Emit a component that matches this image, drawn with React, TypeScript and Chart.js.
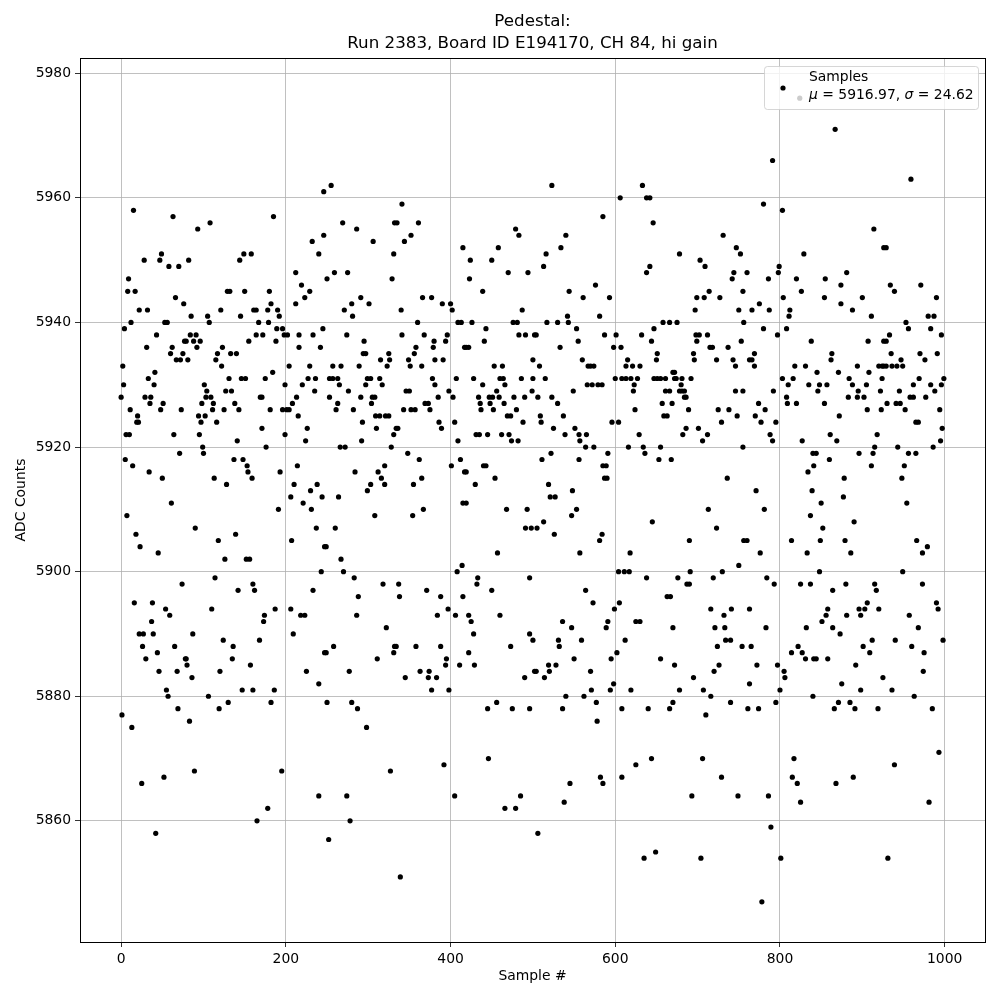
import React, { useEffect, useRef } from "react";
import { Chart, registerables } from "chart.js";

Chart.register(...registerables);

const titleLines = ["Pedestal:", "Run 2383, Board ID E194170, CH 84, hi gain"];
const xLabel = "Sample #";
const yLabel = "ADC Counts";
const legendTitle = "Samples";
const legendMu = "5916.97";
const legendSigma = "24.62";
const xTicks = [0, 200, 400, 600, 800, 1000];
const yTicks = [5860, 5880, 5900, 5920, 5940, 5960, 5980];

// [sample #, ADC counts]
const block1: [number, number][] = [
  [15,5958],[63,5957],[28,5950],[47,5950],[49,5951],[58,5949],[70,5949],[9,5947],[8,5945],[17,5945],[66,5944],[76,5943],[22,5942],[32,5942],[12,5940],[53,5940],[56,5940],[4,5939],[43,5938],[77,5937],[31,5936],[62,5936],[60,5935],[75,5935],[67,5934],[72,5934],[2,5933],[41,5932],[33,5931],[40,5930],[3,5930],[0,5928],[29,5928],[36,5928],[35,5927],[51,5927],[11,5926],[48,5926],[73,5926],[20,5925],[19,5924],[21,5924],[6,5922],[10,5922],[64,5922],[71,5919],[5,5918],[14,5917],[34,5916],[50,5915],[61,5911],[7,5909],[18,5906],[23,5904],[45,5903],[74,5898],[16,5895],[38,5895],[54,5894],[59,5893],[37,5892],[22,5890],[27,5890],[39,5890],[26,5888],[65,5888],[44,5887],[30,5886],[78,5886],[46,5884],[68,5884],[55,5881],[57,5880],[69,5878],[1,5877],[13,5875],[25,5866],[52,5867],[42,5858],
];
const block2: [number, number][] = [
  [93,5955],[108,5956],[82,5950],[144,5950],[149,5951],[158,5951],[129,5945],[132,5945],[150,5945],[121,5942],[161,5942],[85,5941],[105,5941],[145,5941],[107,5940],[84,5938],[91,5938],[79,5937],[88,5937],[96,5937],[155,5937],[92,5936],[123,5936],[117,5935],[133,5935],[140,5935],[81,5934],[115,5934],[122,5933],[131,5931],[146,5931],[151,5931],[101,5930],[127,5929],[134,5929],[104,5929],[103,5928],[109,5928],[98,5927],[112,5927],[138,5927],[111,5926],[125,5926],[143,5926],[94,5925],[102,5925],[97,5924],[116,5924],[95,5922],[141,5921],[99,5920],[100,5919],[137,5918],[148,5918],[153,5917],[154,5916],[113,5915],[159,5915],[128,5914],[90,5907],[139,5906],[118,5905],[126,5902],[152,5902],[156,5902],[114,5899],[160,5898],[142,5897],[162,5897],[110,5894],[87,5890],[124,5889],[136,5888],[135,5886],[79,5886],[80,5885],[157,5885],[120,5884],[86,5883],[147,5881],[160,5881],[106,5880],[130,5879],[119,5878],[83,5876],[89,5868],
];
const block3: [number, number][] = [
  [246,5961],[185,5957],[232,5953],[246,5954],[240,5951],[212,5948],[219,5946],[229,5945],[180,5945],[223,5944],[212,5943],[182,5943],[164,5942],[178,5942],[190,5942],[192,5941],[167,5940],[179,5940],[189,5939],[196,5939],[245,5939],[164,5938],[172,5938],[198,5938],[202,5938],[216,5938],[233,5938],[188,5937],[216,5936],[242,5936],[204,5933],[229,5933],[184,5932],[175,5931],[227,5931],[236,5931],[199,5930],[220,5930],[235,5929],[213,5928],[169,5928],[171,5928],[208,5927],[181,5926],[196,5926],[201,5926],[204,5926],[215,5925],[171,5923],[226,5923],[199,5922],[224,5921],[176,5920],[214,5917],[193,5916],[210,5914],[238,5914],[230,5913],[206,5912],[221,5911],[244,5912],[231,5910],[191,5910],[237,5907],[207,5905],[247,5904],[243,5900],[233,5897],[187,5894],[206,5894],[218,5893],[223,5893],[174,5893],[173,5892],[209,5890],[168,5889],[247,5887],[225,5884],[186,5881],[240,5882],[182,5879],[195,5868],[240,5864],[178,5862],[165,5860],
];
const block4: [number, number][] = [
  [255,5962],[269,5956],[286,5955],[306,5953],[331,5951],[332,5956],[259,5948],[275,5948],[250,5947],[329,5947],[291,5944],[280,5943],[301,5943],[271,5942],[281,5941],[274,5938],[295,5937],[294,5935],[297,5935],[325,5935],[257,5933],[267,5933],[289,5933],[315,5934],[326,5934],[323,5933],[253,5931],[257,5931],[263,5931],[299,5931],[303,5931],[314,5931],[265,5930],[297,5930],[317,5930],[276,5929],[253,5928],[291,5928],[305,5928],[308,5928],[263,5927],[304,5927],[261,5926],[282,5926],[309,5925],[314,5925],[321,5925],[325,5925],[293,5924],[310,5923],[331,5922],[292,5921],[266,5920],[272,5920],[328,5920],[320,5917],[284,5916],[312,5916],[316,5915],[320,5914],[303,5914],[299,5913],[264,5912],[308,5909],[260,5907],[249,5904],[267,5902],[270,5900],[283,5899],[318,5898],[288,5896],[286,5893],[322,5891],[258,5888],[249,5887],[332,5888],[331,5887],[311,5886],[277,5884],[250,5879],[280,5879],[287,5878],[298,5875],[327,5868],[274,5864],[278,5860],[252,5857],
];
const block5: [number, number][] = [
  [341,5959],[335,5956],[361,5956],[344,5953],[352,5954],[415,5952],[366,5944],[377,5944],[390,5943],[400,5943],[340,5942],[402,5942],[360,5940],[409,5940],[413,5940],[341,5938],[368,5938],[396,5938],[380,5937],[394,5937],[379,5936],[358,5936],[417,5936],[356,5935],[349,5934],[381,5934],[391,5934],[351,5933],[365,5933],[407,5931],[378,5931],[381,5930],[346,5929],[350,5929],[398,5929],[369,5927],[373,5927],[403,5928],[385,5928],[343,5926],[352,5926],[357,5926],[375,5926],[386,5924],[405,5924],[336,5923],[334,5923],[389,5923],[409,5921],[348,5919],[362,5918],[412,5918],[401,5917],[417,5916],[365,5915],[355,5914],[415,5911],[367,5910],[354,5909],[414,5901],[408,5900],[337,5898],[371,5897],[338,5896],[388,5896],[415,5896],[397,5894],[384,5893],[406,5893],[334,5888],[358,5888],[388,5888],[395,5886],[394,5885],[411,5885],[363,5884],[374,5884],[345,5883],[373,5883],[383,5883],[377,5881],[398,5881],[392,5869],[405,5864],[339,5851],
];
const block6: [number, number][] = [
  [479,5955],[483,5954],[458,5952],[424,5950],[450,5950],[423,5947],[470,5948],[494,5948],[439,5945],[487,5942],[426,5940],[476,5940],[481,5940],[443,5939],[441,5937],[483,5938],[491,5938],[502,5938],[419,5936],[422,5936],[453,5933],[463,5933],[500,5934],[428,5931],[460,5931],[464,5931],[486,5931],[500,5931],[439,5930],[466,5930],[456,5929],[499,5929],[434,5928],[447,5928],[451,5928],[459,5928],[477,5928],[490,5928],[436,5927],[448,5927],[465,5927],[437,5926],[452,5926],[480,5926],[469,5925],[473,5925],[488,5924],[431,5922],[435,5922],[445,5922],[462,5922],[471,5922],[474,5921],[482,5921],[440,5917],[443,5917],[419,5916],[454,5915],[430,5914],[419,5911],[468,5910],[493,5910],[491,5907],[498,5907],[457,5903],[433,5899],[432,5898],[496,5899],[450,5897],[422,5893],[425,5892],[460,5893],[428,5890],[496,5890],[500,5889],[473,5888],[422,5887],[429,5885],[502,5884],[490,5883],[456,5879],[445,5878],[475,5878],[496,5878],[446,5870],[485,5864],[466,5862],[479,5862],
];
const block7: [number, number][] = [
  [523,5962],[585,5957],[540,5954],[516,5951],[534,5952],[513,5949],[576,5946],[544,5945],[561,5944],[581,5941],[542,5941],[517,5940],[530,5940],[543,5940],[553,5939],[504,5938],[587,5938],[555,5937],[533,5936],[560,5934],[508,5933],[567,5933],[570,5933],[574,5933],[515,5931],[566,5930],[572,5930],[579,5930],[584,5930],[549,5929],[506,5928],[523,5928],[530,5927],[509,5925],[537,5925],[510,5924],[525,5923],[551,5923],[539,5922],[556,5922],[565,5922],[557,5921],[564,5920],[574,5920],[511,5918],[522,5919],[556,5918],[585,5917],[587,5915],[519,5914],[521,5912],[527,5912],[548,5913],[553,5910],[547,5909],[505,5907],[513,5908],[526,5906],[584,5906],[581,5905],[557,5903],[564,5897],[573,5895],[536,5892],[547,5891],[531,5889],[532,5888],[559,5889],[550,5886],[504,5884],[514,5883],[519,5885],[520,5884],[528,5885],[570,5884],[540,5880],[562,5880],[571,5881],[577,5879],[536,5878],[578,5876],[545,5866],[538,5863],[582,5867],[585,5866],[506,5858],
];
const block8: [number, number][] = [
  [633,5962],[606,5960],[638,5960],[642,5960],[646,5956],[642,5949],[638,5948],[593,5944],[658,5940],[666,5940],[601,5938],[632,5938],[647,5939],[644,5937],[598,5936],[607,5936],[651,5935],[650,5934],[615,5934],[613,5933],[621,5933],[630,5933],[670,5932],[600,5931],[608,5931],[613,5931],[619,5931],[627,5931],[647,5931],[651,5931],[655,5931],[661,5931],[672,5931],[623,5930],[622,5929],[661,5929],[666,5929],[657,5927],[669,5927],[624,5926],[659,5925],[663,5925],[596,5924],[604,5924],[629,5922],[591,5919],[616,5920],[634,5920],[636,5919],[655,5920],[653,5918],[668,5918],[589,5917],[590,5915],[645,5908],[618,5903],[604,5900],[611,5900],[617,5900],[638,5899],[663,5896],[667,5896],[605,5895],[599,5894],[591,5892],[589,5891],[625,5892],[630,5892],[670,5891],[612,5889],[602,5887],[595,5886],[655,5886],[672,5885],[598,5882],[594,5881],[619,5881],[670,5879],[608,5878],[640,5878],[666,5878],[625,5869],[644,5870],[608,5867],[635,5854],[649,5855],
];
const block9: [number, number][] = [
  [731,5954],[747,5952],[752,5951],[678,5951],[703,5950],[709,5949],[744,5948],[742,5947],[755,5945],[714,5945],[699,5944],[708,5944],[727,5944],[750,5942],[697,5942],[675,5940],[756,5940],[698,5938],[702,5938],[712,5938],[699,5937],[753,5937],[715,5936],[718,5936],[737,5936],[695,5935],[696,5934],[723,5934],[743,5934],[746,5933],[672,5932],[674,5931],[681,5931],[692,5931],[680,5930],[678,5929],[681,5929],[684,5929],[746,5929],[755,5929],[684,5928],[686,5928],[689,5926],[725,5926],[738,5926],[748,5925],[729,5924],[686,5923],[701,5923],[682,5922],[712,5922],[706,5921],[755,5920],[736,5915],[713,5910],[723,5907],[690,5905],[756,5905],[750,5901],[691,5900],[730,5900],[676,5899],[719,5899],[687,5898],[690,5898],[716,5894],[741,5894],[732,5893],[721,5891],[733,5891],[734,5889],[740,5889],[724,5888],[754,5888],[726,5885],[720,5884],[695,5883],[678,5881],[707,5881],[716,5880],[740,5879],[710,5877],[706,5870],[729,5867],[693,5864],[749,5864],[704,5854],
];
const block10: [number, number][] = [
  [824,5976],[791,5966],[780,5959],[803,5958],[829,5951],[760,5948],[786,5947],[798,5948],[799,5949],[820,5947],[826,5945],[804,5944],[775,5943],[766,5942],[787,5942],[812,5942],[811,5941],[780,5939],[808,5939],[797,5938],[838,5937],[769,5935],[763,5934],[766,5934],[769,5933],[818,5933],[831,5933],[803,5931],[816,5931],[810,5930],[835,5930],[792,5929],[808,5928],[774,5927],[809,5927],[820,5927],[782,5926],[770,5925],[777,5924],[795,5924],[788,5922],[791,5921],[827,5921],[840,5919],[834,5916],[841,5917],[839,5913],[771,5913],[781,5910],[837,5909],[760,5905],[814,5905],[776,5903],[833,5903],[784,5899],[793,5898],[825,5898],[837,5898],[763,5894],[783,5891],[832,5891],[765,5888],[822,5888],[814,5887],[827,5887],[831,5886],[841,5886],[772,5885],[797,5885],[805,5884],[806,5883],[763,5882],[800,5881],[795,5879],[840,5880],[761,5878],[774,5878],[817,5870],[815,5867],[821,5866],[786,5864],[825,5863],[789,5859],[801,5854],[778,5847],
];
const block11: [number, number][] = [
  [867,5971],[914,5955],[926,5952],[855,5947],[881,5948],[874,5946],[854,5944],[874,5943],[900,5944],[888,5942],[911,5941],[907,5937],[926,5937],[863,5935],[862,5934],[920,5933],[924,5933],[926,5933],[845,5932],[871,5932],[894,5933],[908,5932],[884,5931],[924,5931],[848,5930],[857,5930],[888,5930],[905,5930],[846,5929],[895,5929],[922,5929],[883,5928],[894,5928],[902,5928],[854,5927],[906,5926],[923,5926],[872,5925],[918,5922],[861,5922],[915,5920],[869,5921],[896,5919],[913,5919],[844,5919],[860,5918],[911,5917],[878,5915],[877,5912],[850,5911],[890,5908],[852,5907],[849,5905],[879,5905],[886,5903],[848,5900],[880,5898],[915,5898],[864,5897],[917,5897],[858,5894],[896,5894],[903,5894],[898,5893],[906,5895],[856,5893],[920,5894],[851,5892],[864,5891],[881,5893],[873,5890],[901,5888],[912,5889],[909,5887],[844,5886],[858,5886],[892,5885],[925,5883],[875,5882],[898,5881],[866,5878],[871,5879],[885,5879],[891,5878],[919,5878],[868,5866],[889,5867],
];
const block12: [number, number][] = [
  [959,5963],[929,5952],[934,5946],[939,5945],[971,5946],[990,5944],[980,5941],[987,5941],[953,5940],[956,5939],[983,5939],[929,5937],[933,5938],[996,5938],[935,5935],[970,5935],[991,5935],[976,5934],[929,5933],[936,5933],[942,5933],[949,5933],[947,5934],[999,5931],[969,5931],[962,5930],[983,5930],[996,5930],[945,5929],[988,5929],[946,5927],[977,5928],[958,5928],[962,5928],[930,5927],[941,5927],[952,5926],[965,5924],[968,5924],[994,5926],[997,5923],[995,5921],[943,5920],[956,5919],[965,5919],[986,5920],[951,5917],[948,5915],[954,5911],[966,5905],[973,5903],[979,5904],[949,5900],[973,5898],[990,5895],[992,5894],[998,5889],[957,5893],[968,5891],[940,5889],[960,5888],[975,5887],[974,5884],[936,5881],[963,5880],[985,5878],[939,5869],[993,5871],[981,5863],[931,5854],
];

const FONT = "'DejaVu Sans', sans-serif";

export default function App() {
  const canvasRef = useRef<HTMLCanvasElement | null>(null);

  useEffect(() => {
    document.body.style.margin = "0";
    const canvas = canvasRef.current;
    if (!canvas) return;
    const all = [
      ...block1, ...block2, ...block3, ...block4, ...block5, ...block6,
      ...block7, ...block8, ...block9, ...block10, ...block11, ...block12,
    ];
    const points = all.map(([x, y]) => ({ x, y }));

    const decor = {
      id: "decor",
      afterDraw(chart: any) {
        const ctx = chart.ctx as CanvasRenderingContext2D;
        const a = chart.chartArea;
        ctx.save();
        ctx.strokeStyle = "#000";
        ctx.lineWidth = 1;
        ctx.strokeRect(Math.round(a.left) + 0.5, Math.round(a.top) + 0.5,
          Math.round(a.right - a.left), Math.round(a.bottom - a.top));
        const cx = (a.left + a.right) / 2;
        ctx.fillStyle = "#000";
        ctx.textAlign = "center";
        ctx.textBaseline = "middle";
        ctx.font = `16.7px ${FONT}`;
        ctx.fillText(titleLines[0], cx, 22);
        ctx.fillText(titleLines[1], cx, 44);
        ctx.font = `13.9px ${FONT}`;
        ctx.fillText(xLabel, cx, 976);
        ctx.save();
        ctx.translate(21, (a.top + a.bottom) / 2);
        ctx.rotate(-Math.PI / 2);
        ctx.fillText(yLabel, 0, 0);
        ctx.restore();
        ctx.restore();
      },
      afterDatasetsDraw(chart: any) {
        const ctx = chart.ctx as CanvasRenderingContext2D;
        ctx.save();
        const bx = 764.5, by = 66.5, bw = 214, bh = 43;
        ctx.beginPath();
        (ctx as any).roundRect(bx, by, bw, bh, 3);
        ctx.fillStyle = "rgba(255,255,255,0.8)";
        ctx.fill();
        ctx.strokeStyle = "rgba(204,204,204,0.8)";
        ctx.lineWidth = 1;
        ctx.stroke();
        ctx.fillStyle = "#000";
        ctx.beginPath();
        ctx.arc(783, 88, 2.6, 0, Math.PI * 2);
        ctx.fill();
        ctx.textAlign = "left";
        ctx.textBaseline = "middle";
        ctx.font = `13.9px ${FONT}`;
        ctx.fillText(legendTitle, 809, 77);
        let x = 809;
        const y = 95;
        const seg = (t: string, italic: boolean) => {
          ctx.font = `${italic ? "italic " : ""}13.9px ${FONT}`;
          ctx.fillText(t, x, y);
          x += ctx.measureText(t).width;
        };
        seg("\u03bc", true);
        seg(` = ${legendMu}, `, false);
        seg("\u03c3", true);
        seg(` = ${legendSigma}`, false);
        ctx.restore();
      },
    };

    const chart = new Chart(canvas, {
      type: "scatter",
      data: {
        datasets: [
          {
            label: legendTitle,
            data: points,
            backgroundColor: "#000",
            borderColor: "#000",
            borderWidth: 0,
            pointRadius: 2.6,
            pointHoverRadius: 2.6,
          },
        ],
      },
      options: {
        responsive: false,
        animation: false,
        events: [],
        layout: { padding: { top: 58, right: 15, left: 0, bottom: 0 } },
        plugins: {
          legend: { display: false },
          title: { display: false },
          tooltip: { enabled: false },
        },
        scales: {
          x: {
            type: "linear",
            min: -49.95,
            max: 1048.95,
            afterBuildTicks: (s: any) => {
              s.ticks = xTicks.map((v) => ({ value: v }));
            },
            afterFit: (s: any) => {
              s.height = 58;
            },
            ticks: {
              color: "#000",
              font: { family: FONT, size: 13.9 },
              padding: 4,
              maxRotation: 0,
              callback: (v: any) => String(v),
            },
            grid: {
              color: "#b0b0b0",
              lineWidth: 0.8,
              tickLength: 5,
              tickColor: "#000",
            },
            border: { display: true, color: "#000", width: 1 },
          },
          y: {
            type: "linear",
            min: 5840.55,
            max: 5982.45,
            afterBuildTicks: (s: any) => {
              s.ticks = yTicks.map((v) => ({ value: v }));
            },
            afterFit: (s: any) => {
              s.width = 80;
            },
            ticks: {
              color: "#000",
              font: { family: FONT, size: 13.9 },
              padding: 4,
              callback: (v: any) => String(v),
            },
            grid: {
              color: "#b0b0b0",
              lineWidth: 0.8,
              tickLength: 5,
              tickColor: "#000",
            },
            border: { display: true, color: "#000", width: 1 },
          },
        },
      },
      plugins: [decor],
    } as any);

    return () => chart.destroy();
  }, []);

  return (
    <div style={{ width: 1000, height: 1000, background: "#fff" }}>
      <canvas ref={canvasRef} width={1000} height={1000} style={{ display: "block" }} />
    </div>
  );
}
